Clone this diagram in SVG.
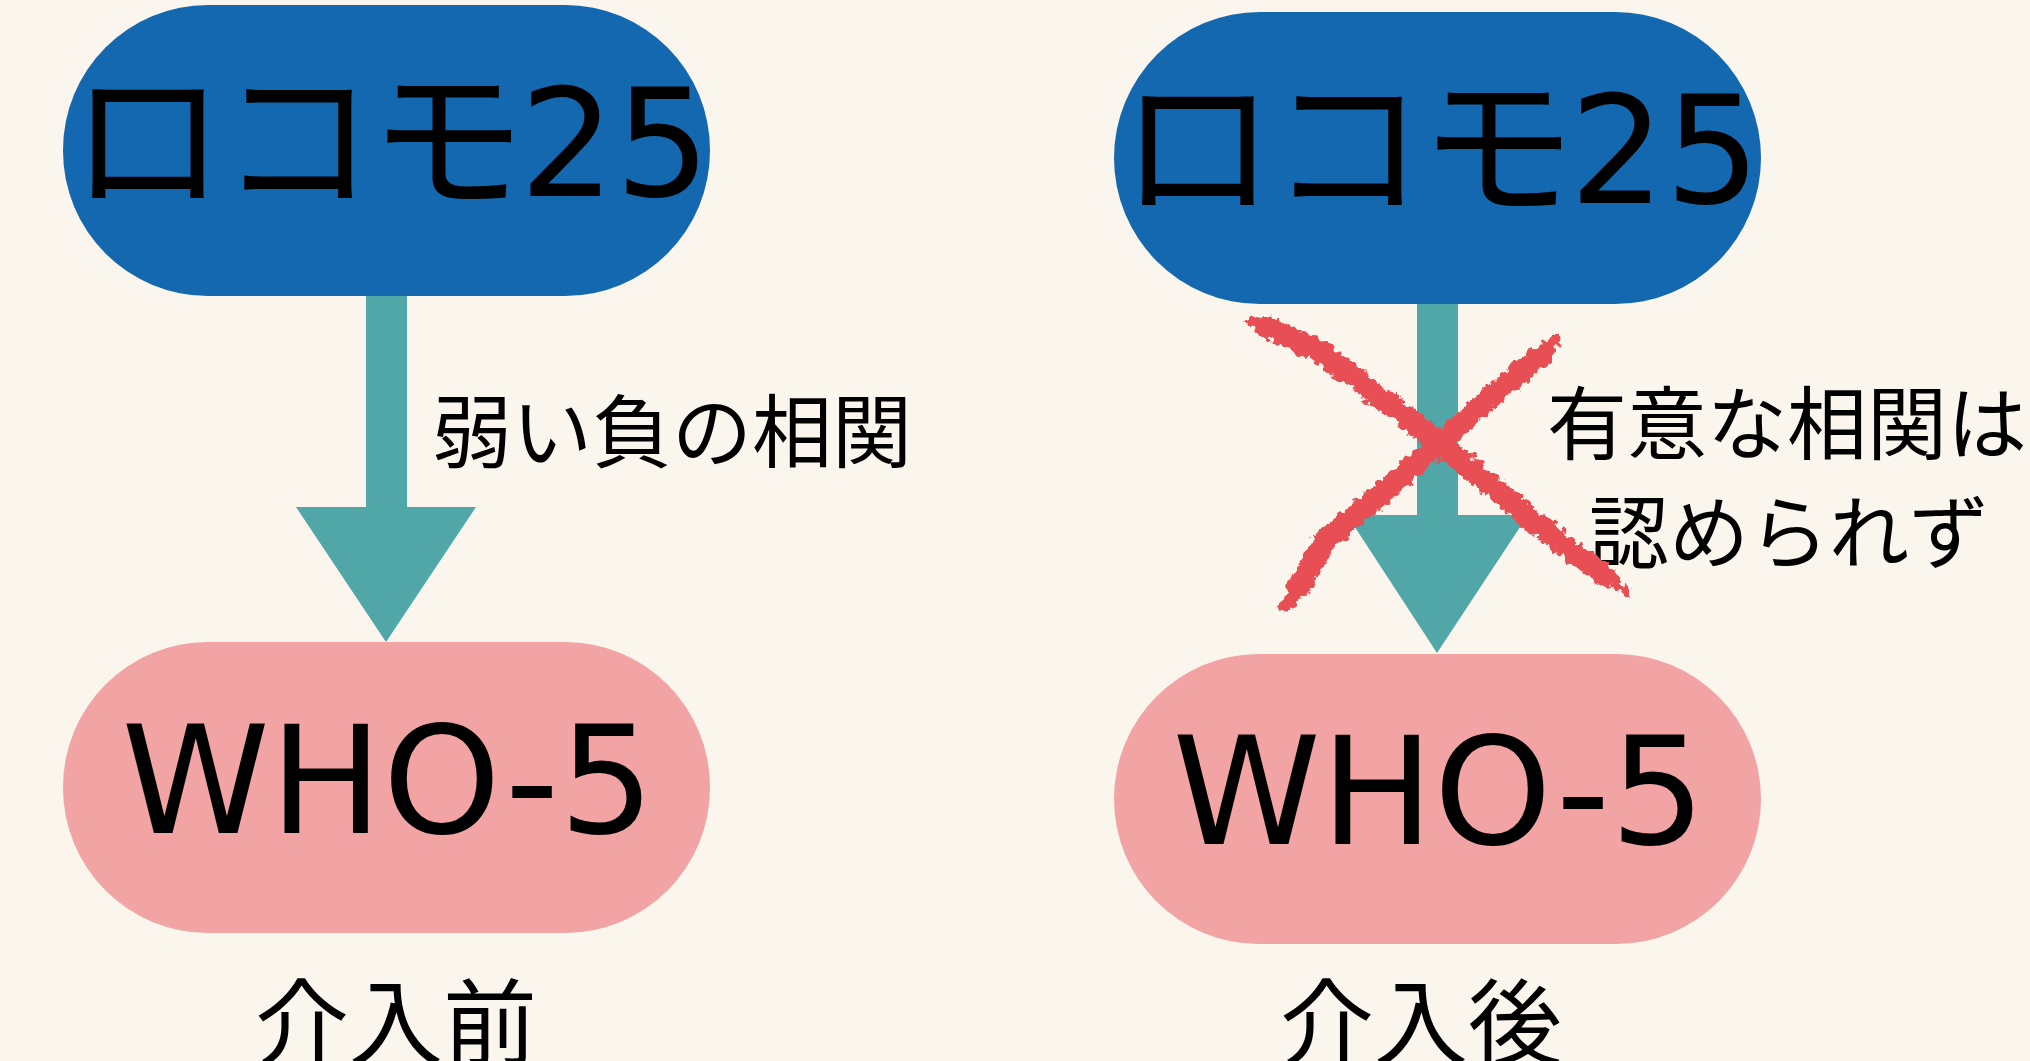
<svg xmlns="http://www.w3.org/2000/svg" width="2030" height="1061" viewBox="0 0 2030 1061">
  <style>
    .bg { fill: #FAF6EE; }
    .pill-blue { fill: #1468AF; }
    .pill-pink { fill: #F2A3A3; }
    .big { font-family: 'DejaVu Sans', 'Noto Sans CJK JP', sans-serif; font-size: 150px; fill: #000000; text-anchor: middle; }
    .kana { font-size: 156px; letter-spacing: -6px; }
    .lbl { font-family: 'Noto Sans CJK JP', 'DejaVu Sans', sans-serif; font-size: 80px; fill: #000000; }
    .cap { font-family: 'Noto Sans CJK JP', 'DejaVu Sans', sans-serif; font-size: 94px; fill: #000000; text-anchor: middle; }
    .arrow { fill: #51A6A8; }
    .cross { fill: none; stroke: #E85054; stroke-linecap: round; stroke-linejoin: round; }
  </style>
  <defs>
    <filter id="rough" filterUnits="userSpaceOnUse" x="1200" y="280" width="480" height="380">
      <feTurbulence type="fractalNoise" baseFrequency="0.12" numOctaves="3" seed="7" result="noise"/>
      <feDisplacementMap in="SourceGraphic" in2="noise" scale="14" xChannelSelector="R" yChannelSelector="G"/>
    </filter>
  </defs>

  <rect class="bg" x="0" y="0" width="2030" height="1061"/>

  <g id="connectors">
    <g id="arrow-before">
      <polygon class="arrow" points="366,296 407,296 407,507 476,507 386,642 296,507 366,507"/>
      <text class="lbl" x="432" y="461">弱い負の相関</text>
    </g>
    <g id="arrow-after">
      <polygon class="arrow" points="1417,304 1458,304 1458,515 1528,515 1437,653 1347,515 1417,515"/>
      <text class="lbl" x="1787" y="453" text-anchor="middle">有意な相関は</text>
      <text class="lbl" x="1789" y="562" text-anchor="middle">認められず</text>
    </g>
  </g>

  <g id="node-locomo-before">
    <rect class="pill-blue" x="63" y="5" width="647" height="291" rx="145" ry="145"/>
    <text class="big" x="390" y="196"><tspan class="kana">ロコモ</tspan>25</text>
  </g>
  <g id="node-who-before">
    <rect class="pill-pink" x="63" y="642" width="647" height="291" rx="145" ry="145"/>
    <text class="big" x="388" y="833">WHO-5</text>
  </g>
  <g id="node-locomo-after">
    <rect class="pill-blue" x="1114" y="12" width="647" height="292" rx="146" ry="146"/>
    <text class="big" x="1440" y="203"><tspan class="kana">ロコモ</tspan>25</text>
  </g>
  <g id="node-who-after">
    <rect class="pill-pink" x="1114" y="654" width="647" height="290" rx="145" ry="145"/>
    <text class="big" x="1439" y="844">WHO-5</text>
  </g>

  <g id="caption-before">
    <text class="cap" x="396" y="1058">介入前</text>
  </g>
  <g id="caption-after">
    <text class="cap" x="1421" y="1058">介入後</text>
  </g>

  <g id="cross" filter="url(#rough)">
    <path class="cross" stroke-width="10" d="M1252,322 L1317,347 L1367,385 L1440,443 L1540,527 L1624,590"/>
    <path class="cross" stroke-width="22" d="M1266,328 L1317,349 L1367,387 L1440,443 L1540,527 L1606,577"/>
    <path class="cross" stroke-width="10" d="M1556,340 L1490,397 L1440,443 L1373,500 L1323,543 L1285,608"/>
    <path class="cross" stroke-width="22" d="M1545,352 L1490,397 L1440,443 L1373,500 L1323,543 L1298,588"/>
  </g>
</svg>
